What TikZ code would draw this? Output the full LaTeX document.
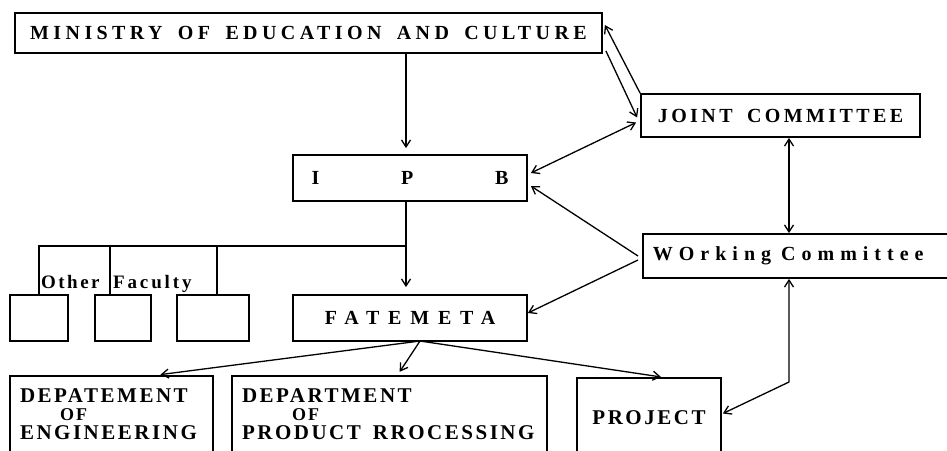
\documentclass[tikz,border=0pt]{standalone}
\usepackage{fontspec}
\setmainfont{Liberation Serif}
\usetikzlibrary{arrows.meta,calc}

\newcommand{\bigtxt}{\fontsize{20}{24}\selectfont\bfseries}
\newcommand{\deptxt}{\fontsize{21}{18}\selectfont\bfseries\addfontfeature{LetterSpace=12}}
\newcommand{\oftxt}{\fontsize{18}{18}\selectfont\addfontfeature{LetterSpace=12}}

\begin{document}
\begin{tikzpicture}[
    x=1pt, y=-1pt,
    every node/.style={inner sep=0pt},
    box/.style={draw, line width=1.8pt, inner sep=0pt},
    link/.style={line width=1.3pt},
    arr/.style={link, -{Straight Barb[length=7pt,width=9pt]}},
    twoway/.style={link, {Straight Barb[length=7pt,width=9pt]}-{Straight Barb[length=7pt,width=9pt]}}
]
\useasboundingbox (0,0) rectangle (947,450);
\clip (0,0) rectangle (947,450);

%==================== Top level ====================
\node[box, minimum width=587pt, minimum height=40pt] (ministry) at (308.5,33)
     {\bigtxt\addfontfeature{LetterSpace=22}MINISTRY\hspace{6pt} OF\hspace{6pt} EDUCATION\hspace{6pt} AND\hspace{6pt} CULTURE};
\node[box, minimum width=279pt, minimum height=43pt] (joint) at (780.5,115.5)
     {\bigtxt\addfontfeature{LetterSpace=17}JOINT\hspace{6pt} COMMITTEE};
\node[box, minimum width=234pt, minimum height=46pt] (ipb) at (410,178)
     {\bigtxt\makebox[197pt]{I\hfill P\hfill B}};
\node[box, anchor=west, text width=290pt, inner xsep=10pt, minimum height=44pt, align=left] (working) at (642,256)
     {\bigtxt\addfontfeature{LetterSpace=30}WOrking\hspace{10pt}Committee};

%==================== Faculties ====================
\node[box, minimum width=234pt, minimum height=46pt] (fatemeta) at (410,318)
     {\bigtxt\addfontfeature{LetterSpace=44}FATEMETA};
\node[box, minimum width=58pt, minimum height=46pt] (fac1) at (39,318) {};
\node[box, minimum width=56pt, minimum height=46pt] (fac2) at (123,318) {};
\node[box, minimum width=72pt, minimum height=46pt] (fac3) at (213,318) {};
\node[anchor=base west, font=\fontsize{19}{22}\selectfont\bfseries\addfontfeature{LetterSpace=13}] (other) at (41,288) {Other};
\node[anchor=base west, font=\fontsize{19}{22}\selectfont\bfseries\addfontfeature{LetterSpace=15}] (faculty) at (113,288) {Faculty};

%==================== Departments ====================
\node[box, text width=183pt, inner xsep=10pt, minimum height=76pt, align=left] (dep1) at (111.5,414)
     {\deptxt DEPATEMENT\\\hspace*{40pt}{\oftxt OF}\\[4pt]ENGINEERING};
\node[box, text width=295pt, inner xsep=10pt, minimum height=76pt, align=left] (dep2) at (389.5,414)
     {\deptxt DEPARTMENT\\\hspace*{50pt}{\oftxt OF}\\[4pt]PRODUCT\hspace{12pt}RROCESSING};
\node[box, minimum width=144pt, minimum height=79pt] (project) at (649,417.5)
     {\deptxt PROJECT};

%==================== Connectors ====================
\coordinate (spine)  at (406,0);
\coordinate (branch) at (406,246);
\coordinate (vline)  at (789,0);
\coordinate (bend)   at (789,382);
\coordinate (fout)   at (420,341);

% chain of command
\draw[arr, shorten >=6pt] (ministry.south -| spine) -- (ipb.north -| spine);
\draw[arr, shorten >=7pt] (ipb.south -| spine) -- (fatemeta.north -| spine);
\draw[link] (branch) -| (fac1.north);
\draw[link] ($(fac2.north)+(-13,0)$) |- (branch);
\draw[link] ($(fac3.north)+(4,0)$) |- (branch);

% committees
\draw[arr] ($(ministry.south east)+(3,-3)$) -- ($(joint.west)+(-3,2)$);
\draw[arr] (joint.north west) -- ($(ministry.east)+(2,-8)$);
\draw[twoway] ($(joint.west)+(-4,7)$) -- ($(ipb.east)+(3,-5)$);
\draw[twoway] (joint.south -| vline) -- (working.north -| vline);
\draw[arr] ($(working.west)+(-4,0)$) -- ($(ipb.east)+(3,8)$);
\draw[arr] ($(working.west)+(-4,4)$) -- ($(fatemeta.east)+(0,-5)$);
\draw[twoway] (working.south -| bend) -- (bend) -- ($(project.east)+(1,-4)$);

% fatemeta units
\draw[arr, shorten >=4pt] (fout) -- ($(dep1.north)+(45,0)$);
\draw[arr, shorten >=4pt] (fout) -- ($(dep2.north)+(8,0)$);
\draw[arr, shorten >=1pt] (fout) -- ($(project.north)+(13,0)$);

\end{tikzpicture}
\end{document}
